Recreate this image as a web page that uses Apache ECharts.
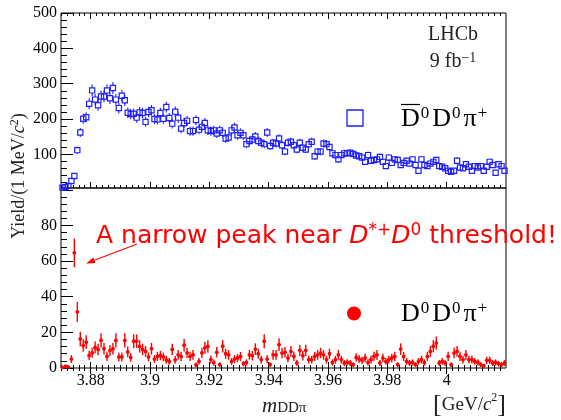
<!DOCTYPE html>
<html><head><meta charset="utf-8">
<script src="https://cdn.jsdelivr.net/npm/echarts@6/dist/echarts.min.js"></script>
<style>html,body{margin:0;padding:0;background:#fff}#c{width:561px;height:420px}</style>
</head><body><div id="c"></div>
<script>
// ---- data (1 MeV bins starting at 3.870 GeV) ----
const binStart = 3.870;
const binWidth = 0.001;
const yieldDbarD0D0Pi = [
  6,8,11,25,39,112,162,201,205,243,281,255,239,264,264,281,259,288,255,231,
  266,253,218,214,215,204,219,217,192,220,225,200,199,217,201,234,203,187,221,204,
  173,189,195,166,166,197,170,178,189,168,
  166,168,159,168,161,145,148,168,176,154,161,154,129,138,142,151,138,133,129,162,
  124,133,131,145,126,108,133,136,126,114,133,119,114,129,136,95,108,108,131,129,
  121,103,98,86,98,103,103,105,101,97,
  95,91,79,98,82,84,86,93,79,67,91,76,86,84,70,76,82,74,86,70,
  54,86,70,67,74,79,84,67,65,61,54,51,54,82,63,61,72,65,54,67,
  63,67,54,65,79,70,48,72,67,54
];
const yieldD0D0Pi = [
  0.3,0.9,0.5,5,64.6,31.5,16.3,12.6,14.5,7,8.5,11.5,10.4,15.5,10.8,6.5,9.8,10.8,15.5,6.2,
  6.2,15.5,9,5.9,15,15,12.1,10.4,9.3,6.2,10.8,5,6.5,7,6.2,4.6,3.7,10.4,4.6,7.4,
  6.5,12.8,8.5,6.5,7.4,1.8,3.7,8.5,11.3,12.1,
  4.7,3,8.8,1.9,12.2,8,7.4,3.7,5,5.6,6.5,2.4,3.1,7.4,6.9,10.6,8,4.7,15,5,
  1.9,7.4,7.4,13.1,8.4,8.8,5.6,9.3,6.5,2.8,9.9,6.9,9.9,4.7,4.7,6.5,7.4,8.4,7.4,4.7,
  8,3.1,4.7,7.4,4.7,2.8,3.1,2.8,1.9,5.9,
  5,4.3,5.6,3.1,4.7,6.5,7.4,2.8,5.6,3.7,4.7,5.6,6.5,1.9,10.6,6.5,3.7,2.8,3.1,1.9,
  3.7,4.7,3.1,6.5,9.3,12.2,14,2.8,3.7,2.8,6.5,1.9,8.4,9.3,6.5,4.7,7.4,4.7,4.7,3.7,
  3.1,1.9,1.3,4.3,4.3,2.8,3.1,2.4,1.9,2.8
];
const xTickLabels = [3.88, 3.90, 3.92, 3.94, 3.96, 3.98, 4.00];
const topYTickLabels = [100, 200, 300, 400, 500];
const bottomYTickLabels = [0, 20, 40, 60, 80];

const X_MIN = 3.870, X_MAX = 4.020;
const TOP_MIN = 5, TOP_MAX = 500;
const BOT_MIN = 0, BOT_MAX = 101;
const BLUE = '#1f1fff', RED = '#ff0000';
const SERIF = '"Liberation Serif","DejaVu Serif",serif';
const SANS = '"DejaVu Sans",sans-serif';

// tick positions (axis decorations)
const xMinor = [];
for (let k = 1935; k <= 2010; k++) { if (k % 10 !== 0) xMinor.push(k * 0.002); }
const topMajor = [100, 200, 300, 400, 500];
const topMinor = [];
for (let v = 20; v < 500; v += 20) { if (v % 100 !== 0) topMinor.push(v); }
const botMajor = [0, 20, 40, 60, 80, 100];
const botMinor = [];
for (let v = 4; v <= 100; v += 4) { if (v % 20 !== 0) botMinor.push(v); }

const topData = yieldDbarD0D0Pi.map((v, i) => [binStart + binWidth * (i + 0.5), v, Math.sqrt(v)]);
const botData = yieldD0D0Pi.map((v, i) => [binStart + binWidth * (i + 0.5), v, Math.sqrt(v)]);

function xAxisDef(grid, pos, ticks, len, labels) {
  return {
    type: 'value', gridIndex: grid, position: pos, min: X_MIN, max: X_MAX, offset: 0,
    axisLine: { show: false }, splitLine: { show: false },
    axisTick: { show: true, inside: true, length: len, customValues: ticks, lineStyle: { color: '#000', width: 1 } },
    axisLabel: labels ? {
      show: true, customValues: xTickLabels, margin: 5,
      formatter: v => String(+(+v).toFixed(2)), fontFamily: SERIF, fontSize: 16, color: '#000'
    } : { show: false }
  };
}
function yAxisDef(grid, mn, mx, ticks, len, labels) {
  return {
    type: 'value', gridIndex: grid, position: 'left', min: mn, max: mx, offset: 0,
    axisLine: { show: false }, splitLine: { show: false },
    axisTick: { show: true, inside: true, length: len, customValues: ticks, lineStyle: { color: '#000', width: 1 } },
    axisLabel: labels ? {
      show: true, customValues: labels, margin: 4,
      fontFamily: SERIF, fontSize: 16, color: '#000'
    } : { show: false }
  };
}

function renderTop(params, api) {
  const x = api.value(0), v = api.value(1), e = api.value(2);
  const p = api.coord([x, v]);
  const hi = api.coord([x, Math.min(v + e, TOP_MAX)]);
  const lo = api.coord([x, Math.max(v - e, TOP_MIN)]);
  const h = 2.6;
  const ch = [];
  const ls = { stroke: BLUE, lineWidth: 1.1 };
  if (hi[1] < p[1] - h) ch.push({ type: 'line', shape: { x1: p[0], y1: hi[1], x2: p[0], y2: p[1] - h }, style: ls });
  if (lo[1] > p[1] + h) ch.push({ type: 'line', shape: { x1: p[0], y1: p[1] + h, x2: p[0], y2: lo[1] }, style: ls });
  ch.push({ type: 'rect', shape: { x: p[0] - h, y: p[1] - h, width: 2 * h, height: 2 * h }, style: { fill: 'none', stroke: BLUE, lineWidth: 1.2 } });
  return { type: 'group', children: ch };
}
function renderBot(params, api) {
  const x = api.value(0), v = api.value(1), e = api.value(2);
  const p = api.coord([x, v]);
  const hi = api.coord([x, Math.min(v + e, BOT_MAX)]);
  const lo = api.coord([x, Math.max(v - e, BOT_MIN)]);
  return {
    type: 'group', children: [
      { type: 'line', shape: { x1: p[0], y1: hi[1], x2: p[0], y2: lo[1] }, style: { stroke: RED, lineWidth: 1.4 } },
      { type: 'line', shape: { x1: p[0] - 1.5, y1: p[1], x2: p[0] + 1.5, y2: p[1] }, style: { stroke: RED, lineWidth: 1.2 } },
      { type: 'circle', shape: { cx: p[0], cy: p[1], r: 1.9 }, style: { fill: RED } }
    ]
  };
}

// arrow geometry (annotation)
const tail = [137, 244], tip = [86, 263.5];
const dx = tip[0] - tail[0], dy = tip[1] - tail[1], L = Math.hypot(dx, dy);
const ux = dx / L, uy = dy / L, nx = -uy, ny = ux;
const bx = tip[0] - 9 * ux, by = tip[1] - 9 * uy;

const legendRich = {
  d: { fontSize: 26, lineHeight: 28, fontFamily: SERIF, fill: '#000' },
  s: { fontSize: 17, lineHeight: 14, verticalAlign: 'top', fontFamily: SERIF, fill: '#000', padding: [0, 3, 0, 1] }
};

const option = {
  animation: false,
  grid: [
    { left: 61, top: 13, width: 445, height: 175, show: true, borderColor: '#000', borderWidth: 1, backgroundColor: 'transparent' },
    { left: 61, top: 188, width: 445, height: 180, show: true, borderColor: '#000', borderWidth: 1, backgroundColor: 'transparent' }
  ],
  xAxis: [
    xAxisDef(0, 'bottom', xMinor, 3, false),
    xAxisDef(0, 'bottom', xTickLabels, 6, false),
    xAxisDef(0, 'top', xMinor, 3, false),
    xAxisDef(0, 'top', xTickLabels, 6, false),
    xAxisDef(1, 'top', xMinor, 3, false),
    xAxisDef(1, 'top', xTickLabels, 6, false),
    xAxisDef(1, 'bottom', xMinor, 3, false),
    xAxisDef(1, 'bottom', xTickLabels, 6, true)
  ],
  yAxis: [
    yAxisDef(0, TOP_MIN, TOP_MAX, topMajor, 12, topYTickLabels),
    yAxisDef(0, TOP_MIN, TOP_MAX, topMinor, 6, null),
    yAxisDef(1, BOT_MIN, BOT_MAX, botMajor, 12, bottomYTickLabels),
    yAxisDef(1, BOT_MIN, BOT_MAX, botMinor, 6, null)
  ],
  series: [
    { type: 'custom', name: 'DbarD0D0pi', xAxisIndex: 1, yAxisIndex: 0, data: topData, renderItem: renderTop, encode: { x: 0, y: 1 }, z: 5 },
    { type: 'custom', name: 'D0D0pi', xAxisIndex: 7, yAxisIndex: 2, data: botData, renderItem: renderBot, encode: { x: 0, y: 1 }, z: 5 }
  ],
  graphic: [
    { type: 'text', x: 453, y: 35, style: { text: 'LHCb', font: '20px ' + SERIF, fill: '#222', align: 'center', verticalAlign: 'middle' } },
    { type: 'text', x: 453, y: 62, style: {
        text: '{n|9 fb}{s|−1}', align: 'center', verticalAlign: 'middle',
        rich: { n: { fontSize: 20, lineHeight: 22, fontFamily: SERIF, fill: '#222' }, s: { fontSize: 14, lineHeight: 11, verticalAlign: 'top', fontFamily: SERIF, fill: '#222' } } } },
    { type: 'rect', shape: { x: 347, y: 110, width: 16, height: 16 }, style: { fill: 'none', stroke: BLUE, lineWidth: 1.3 } },
    { type: 'text', x: 401, y: 119, style: { text: '{d|D}{s|0}{d|D}{s|0}{d|π}{s|+}', align: 'left', verticalAlign: 'middle', rich: legendRich } },
    { type: 'line', shape: { x1: 401, y1: 104.5, x2: 420, y2: 104.5 }, style: { stroke: '#000', lineWidth: 1.2 } },
    { type: 'circle', shape: { cx: 354, cy: 313.5, r: 7 }, style: { fill: RED } },
    { type: 'text', x: 401, y: 314, style: { text: '{d|D}{s|0}{d|D}{s|0}{d|π}{s|+}', align: 'left', verticalAlign: 'middle', rich: legendRich } },
    { type: 'text', x: 96, y: 236, z: 10, style: {
        text: '{n|A narrow peak near }{i|D}{s|*+}{i|D}{s|0}{n| threshold!}', align: 'left', verticalAlign: 'middle',
        rich: {
          n: { fontSize: 25, lineHeight: 28, fontFamily: SANS, fill: RED },
          i: { fontSize: 25, lineHeight: 28, fontFamily: SANS, fontStyle: 'italic', fill: RED },
          s: { fontSize: 17, lineHeight: 15, verticalAlign: 'top', fontFamily: SANS, fill: RED }
        } } },
    { type: 'line', shape: { x1: tail[0], y1: tail[1], x2: bx, y2: by }, style: { stroke: RED, lineWidth: 1.2 } },
    { type: 'polygon', shape: { points: [[tip[0], tip[1]], [bx + 3 * nx, by + 3 * ny], [bx - 3 * nx, by - 3 * ny]] }, style: { fill: RED } },
    { type: 'text', x: 19, y: 176, rotation: Math.PI / 2, style: {
        text: '{n|Yield/(1 MeV/}{i|c}{s|2}{n|)}', align: 'center', verticalAlign: 'middle',
        rich: {
          n: { fontSize: 18, lineHeight: 20, fontFamily: SERIF, fill: '#222' },
          i: { fontSize: 18, lineHeight: 20, fontFamily: SERIF, fontStyle: 'italic', fill: '#222' },
          s: { fontSize: 12, lineHeight: 11, verticalAlign: 'top', fontFamily: SERIF, fill: '#222' }
        } } },
    { type: 'text', x: 262, y: 406, style: {
        text: '{i|m}{b|DDπ}', align: 'left', verticalAlign: 'middle',
        rich: {
          i: { fontSize: 21, lineHeight: 20, fontFamily: SERIF, fontStyle: 'italic', fill: '#222' },
          b: { fontSize: 15, lineHeight: 12, verticalAlign: 'bottom', fontFamily: SERIF, fill: '#222' }
        } } },
    { type: 'text', x: 506, y: 405, style: {
        text: '{k|[}{n|GeV/}{i|c}{s|2}{k|]}', align: 'right', verticalAlign: 'middle',
        rich: {
          k: { fontSize: 26, lineHeight: 26, fontFamily: SERIF, fill: '#222' },
          n: { fontSize: 19, lineHeight: 22, fontFamily: SERIF, fill: '#222' },
          i: { fontSize: 19, lineHeight: 22, fontFamily: SERIF, fontStyle: 'italic', fill: '#222' },
          s: { fontSize: 12, lineHeight: 16, verticalAlign: 'top', fontFamily: SERIF, fill: '#222' }
        } } }
  ]
};
const chart = echarts.init(document.getElementById('c'), null, { renderer: 'canvas' });
chart.setOption(option);
</script></body></html>
